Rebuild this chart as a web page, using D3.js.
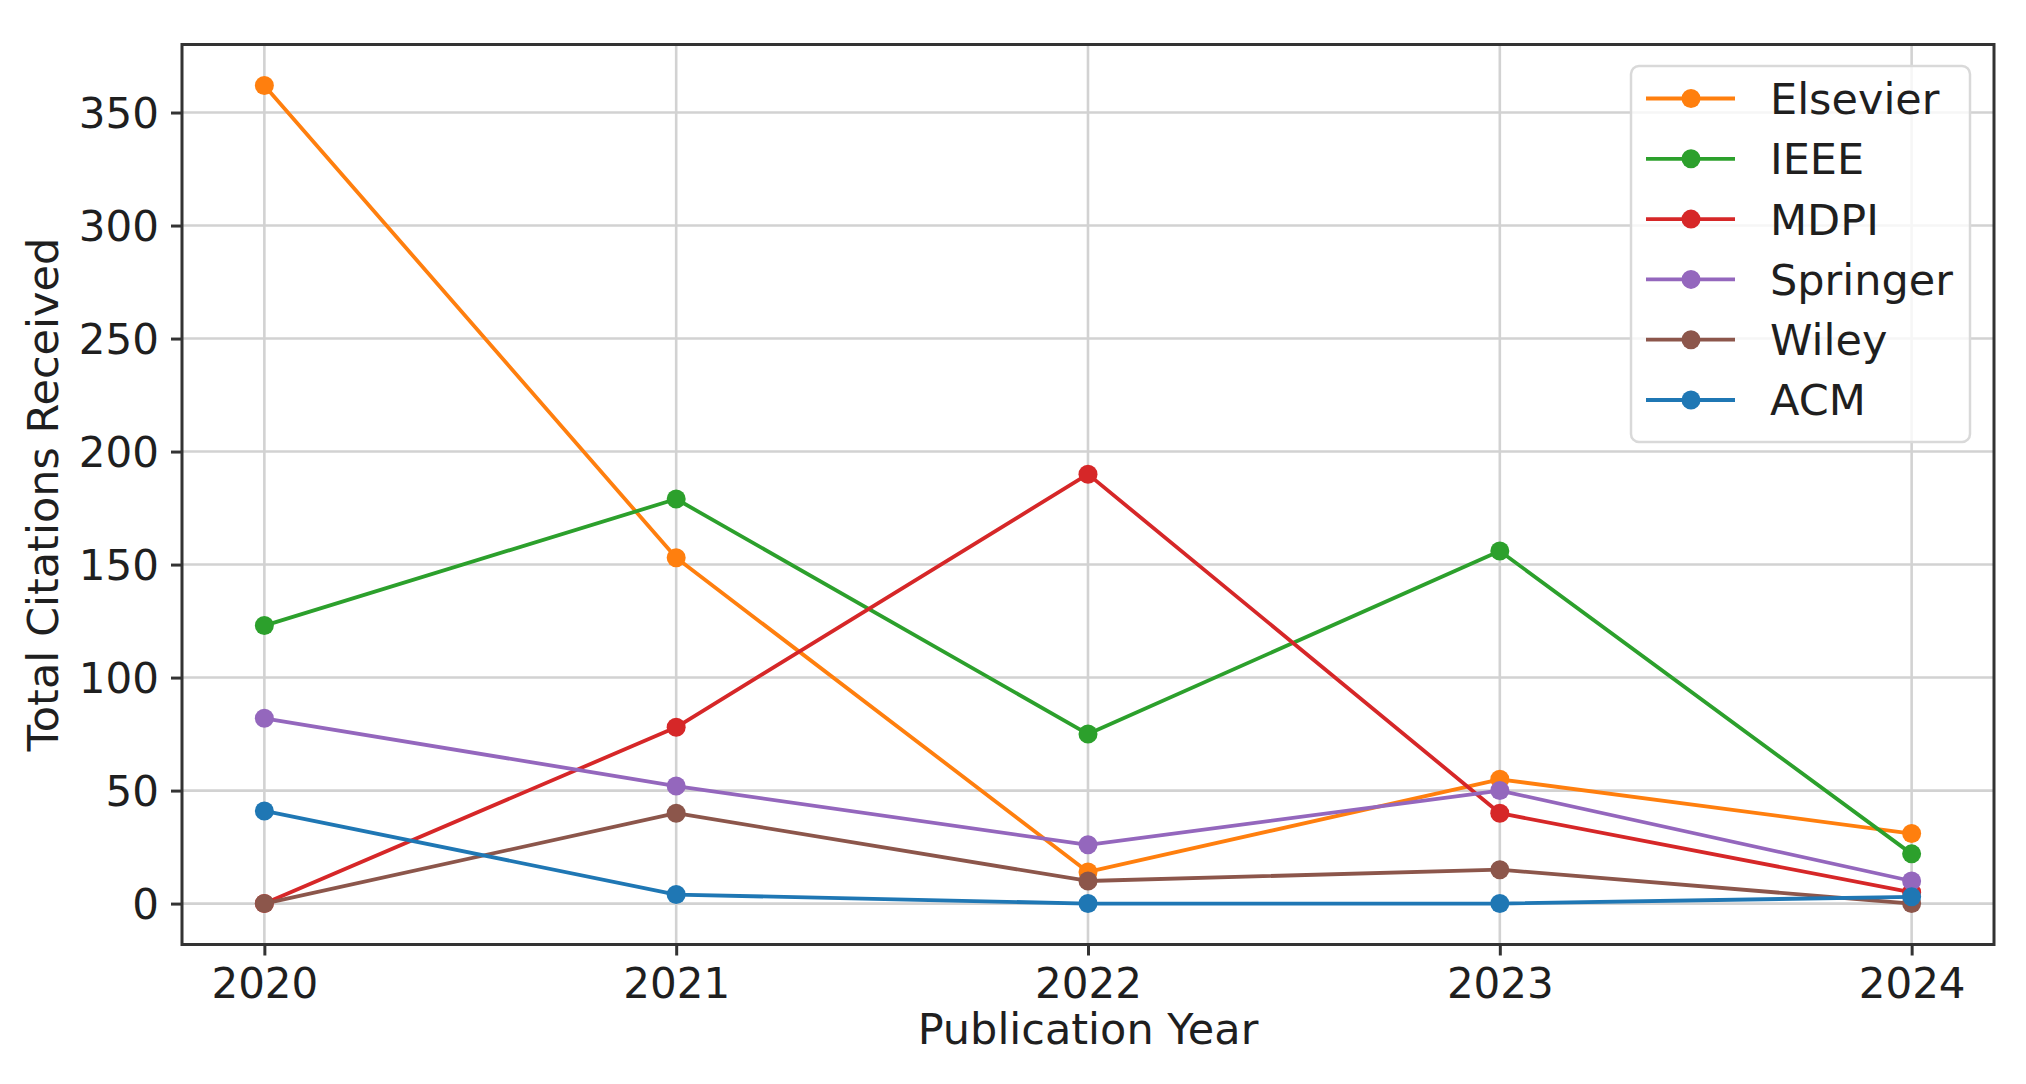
<!DOCTYPE html>
<html>
<head>
<meta charset="utf-8">
<script src="https://cdn.jsdelivr.net/npm/d3@7"></script>
<style>
  html, body { margin: 0; padding: 0; background: #fff; }
  svg { display: block; }
  text { font-family: "DejaVu Sans", sans-serif; fill: #1f1f1f; }
</style>
</head>
<body>
<svg id="chart" width="2026" height="1084"></svg>
<script>
// ---- data ----
const years = [2020, 2021, 2022, 2023, 2024];
const publishers = ["Elsevier", "IEEE", "MDPI", "Springer", "Wiley", "ACM"];
const colors = ["#ff7f0e", "#2ca02c", "#d62728", "#9467bd", "#8c564b", "#1f77b4"];
const elsevier = [362, 153, 14, 55, 31];
const ieee     = [123, 179, 75, 156, 22];
const mdpi     = [0, 78, 190, 40, 5];
const springer = [82, 52, 26, 50, 10];
const wiley    = [0, 40, 10, 15, 0];
const acm      = [41, 4, 0, 0, 3];
const yTicks = [0, 50, 100, 150, 200, 250, 300, 350];
const xLabel = "Publication Year";
const yLabel = "Total Citations Received";

const seriesValues = [elsevier, ieee, mdpi, springer, wiley, acm];
const series = publishers.map((name, i) => ({
  name, color: colors[i],
  points: years.map((y, j) => ({ year: y, value: seriesValues[i][j] }))
}));

// ---- layout ----
const plot = { left: 182, right: 1994, top: 44.5, bottom: 944.5 };
const tickFont = 42;
const labelFont = 43;
const legendFont = 43;

const svg = d3.select("#chart");

const maxV = d3.max(seriesValues.flat());
const minV = d3.min(seriesValues.flat());
const pad = (maxV - minV) * 0.05;
const x = d3.scaleLinear().domain([2019.8, 2024.2]).range([plot.left, plot.right]);
const y = d3.scaleLinear().domain([minV - pad, maxV + pad]).range([plot.bottom, plot.top]);

// grid
const grid = svg.append("g");
grid.selectAll("line.v").data(years).join("line")
  .attr("x1", d => x(d)).attr("x2", d => x(d))
  .attr("y1", plot.top).attr("y2", plot.bottom)
  .attr("stroke", "#d2d2d2").attr("stroke-width", 2.6);
grid.selectAll("line.h").data(yTicks).join("line")
  .attr("x1", plot.left).attr("x2", plot.right)
  .attr("y1", d => y(d)).attr("y2", d => y(d))
  .attr("stroke", "#d2d2d2").attr("stroke-width", 2.6);

// axes
const xAxis = d3.axisBottom(x).tickValues(years).tickFormat(d3.format("d"))
  .tickSize(11).tickPadding(13);
const yAxis = d3.axisLeft(y).tickValues(yTicks).tickFormat(d3.format("d"))
  .tickSize(11).tickPadding(12);

const gx = svg.append("g").attr("transform", `translate(0,${plot.bottom})`).call(xAxis);
const gy = svg.append("g").attr("transform", `translate(${plot.left},0)`).call(yAxis);
[gx, gy].forEach(g => {
  g.select(".domain").remove();
  g.selectAll(".tick line").attr("stroke", "#333").attr("stroke-width", 3);
  g.selectAll(".tick text").attr("font-size", tickFont)
    .attr("font-family", "DejaVu Sans").attr("fill", "#1f1f1f");
});
gx.selectAll(".tick text").attr("dy", "0.71em");
gy.selectAll(".tick text").attr("dy", "0.36em");

// series
const line = d3.line().x(d => x(d.year)).y(d => y(d.value));
const sg = svg.append("g");
series.forEach(s => {
  const g = sg.append("g");
  g.append("path").datum(s.points).attr("d", line)
    .attr("fill", "none").attr("stroke", s.color)
    .attr("stroke-width", 3.8).attr("stroke-linejoin", "round");
  g.selectAll("circle").data(s.points).join("circle")
    .attr("cx", d => x(d.year)).attr("cy", d => y(d.value))
    .attr("r", 9.5).attr("fill", s.color);
});

// spines
svg.append("rect")
  .attr("x", plot.left).attr("y", plot.top)
  .attr("width", plot.right - plot.left).attr("height", plot.bottom - plot.top)
  .attr("fill", "none").attr("stroke", "#333").attr("stroke-width", 3);

// axis labels
svg.append("text").attr("x", (plot.left + plot.right) / 2).attr("y", 1044)
  .attr("text-anchor", "middle").attr("font-size", labelFont).text(xLabel);
svg.append("text")
  .attr("transform", `translate(58,${(plot.top + plot.bottom) / 2}) rotate(-90)`)
  .attr("text-anchor", "middle").attr("font-size", labelFont).text(yLabel);

// legend
const lg = svg.append("g");
const legX = 1631, legY = 66, legW = 339, legH = 376;
lg.append("rect").attr("x", legX).attr("y", legY).attr("width", legW).attr("height", legH)
  .attr("rx", 8).attr("fill", "#fff").attr("fill-opacity", 0.8)
  .attr("stroke", "#d9d9d9").attr("stroke-width", 2.5);
const rowY = d3.scaleLinear().domain([0, publishers.length - 1]).range([98.5, 400]);
series.forEach((s, i) => {
  const cy = rowY(i);
  lg.append("line").attr("x1", 1646).attr("x2", 1735).attr("y1", cy).attr("y2", cy)
    .attr("stroke", s.color).attr("stroke-width", 3.8);
  lg.append("circle").attr("cx", 1691).attr("cy", cy).attr("r", 9.5).attr("fill", s.color);
  lg.append("text").attr("x", 1770).attr("y", cy).attr("dy", "0.36em")
    .attr("font-size", legendFont).text(s.name);
});
</script>
</body>
</html>
